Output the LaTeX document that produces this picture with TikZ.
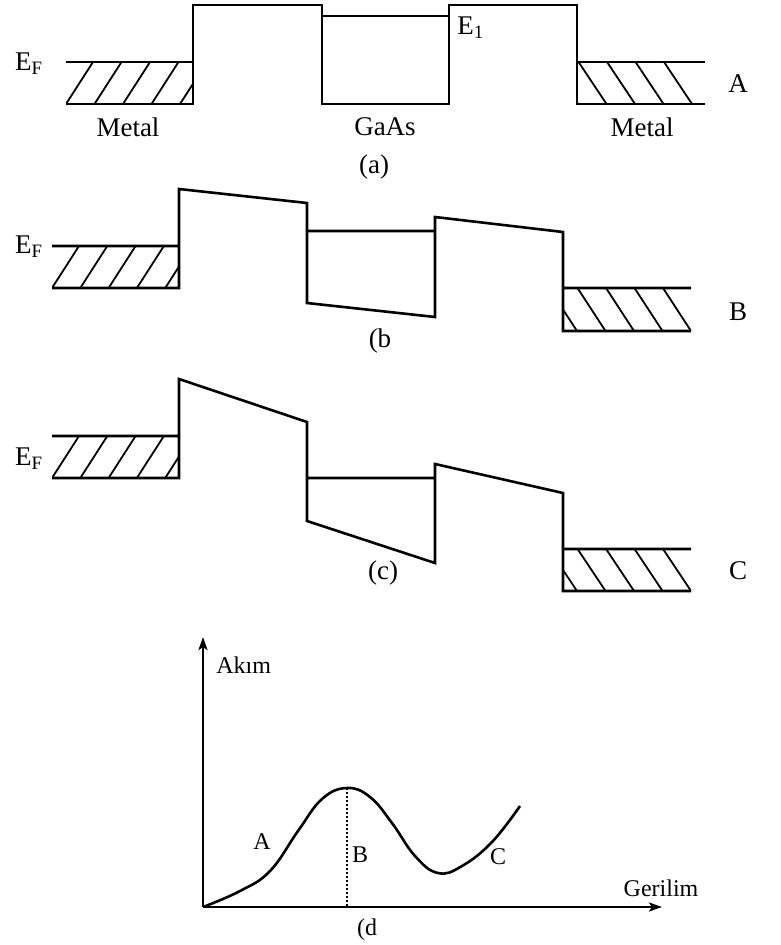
\documentclass[tikz,border=0pt]{standalone}
\usepackage{fontspec}
\setmainfont{Liberation Serif}
\usetikzlibrary{arrows.meta}
\begin{document}
\begin{tikzpicture}[x=1pt,y=-1pt,line width=2.6pt,
  lbl/.style={font=\fontsize{27}{32}\selectfont,inner sep=0pt},
  lbld/.style={font=\fontsize{24}{28}\selectfont,inner sep=0pt},
  hatch/.style={line width=1.8pt}]
\useasboundingbox (0,0) rectangle (781,945);
% (a)
\draw (66,62)--(193,62) (66,104)--(193,104)--(193,5)--(322,5)--(322,104)--(449,104)--(449,5)--(577,5)--(577,104)--(705,104) (577,62)--(705,62) (322,16)--(449,16);
\begin{scope}
\clip (66,62) rectangle (193,104);
\foreach \i in {0,...,4}
\draw[hatch] ({66+28.5*\i},104)--++(27,-42);
\end{scope}
\begin{scope}
\clip (577,62) rectangle (705,104);
\foreach \i in {0,...,4}
\draw[hatch] ({550+28.5*\i},62)--++(28,42);
\end{scope}
\node[lbl] (efa) at (29,64) {E\textsubscript{F}};
\node[lbl,anchor=west] (e1) at (456,28) {E\textsubscript{1}};
\node[lbl] (mleft) at (128,127) {Metal};
\node[lbl] (gaas) at (385,127) {GaAs};
\node[lbl] (mright) at (642,127) {Metal};
\node[lbl] (capa) at (374,167) {(a)};
\node[lbl] (la) at (738,84) {A};
% (b)
\draw (52,246)--(179,246) (52,288)--(179,288)--(179,189)--(307,203)--(307,303)--(435,317)--(435,217)--(563,232)--(563,331)--(691,331) (563,288)--(691,288) (307,231)--(435,231);
\begin{scope}
\clip (52,246) rectangle (179,288);
\foreach \i in {0,...,4}
\draw[hatch] ({52+28.3*\i},288)--++(27,-42);
\end{scope}
\begin{scope}
\clip (563,288) rectangle (691,331);
\foreach \i in {0,...,4}
\draw[hatch] ({549+28.5*\i},288)--++(28,43);
\end{scope}
\node[lbl] (efb) at (29,247) {E\textsubscript{F}};
\node[lbl] (capb) at (380,341) {(b};
\node[lbl] (lb) at (738,312) {B};
% (c)
\draw (52,436)--(179,436) (52,478)--(179,478)--(179,379)--(307,422)--(307,521)--(435,563)--(435,464)--(563,493)--(563,591)--(691,591) (563,549)--(691,549) (307,478)--(435,478);
\begin{scope}
\clip (52,436) rectangle (179,478);
\foreach \i in {0,...,4}
\draw[hatch] ({52+28.3*\i},478)--++(27,-42);
\end{scope}
\begin{scope}
\clip (563,549) rectangle (691,591);
\foreach \i in {0,...,4}
\draw[hatch] ({549+28.5*\i},549)--++(28,42);
\end{scope}
\node[lbl] (efc) at (29,459) {E\textsubscript{F}};
\node[lbl] (capc) at (383,573) {(c)};
\node[lbl] (lc) at (738,571) {C};
% (d)
\coordinate (O) at (203,907);
\coordinate (ytop) at (203,637);
\coordinate (xend) at (662,907);
\coordinate (peak) at (347,788);
\draw[-{Stealth[length=13pt,width=9pt,inset=3pt]}] (O)--(ytop);
\draw[-{Stealth[length=13pt,width=9pt,inset=3pt]}] (O)--(xend);
\draw plot[smooth,tension=0.7] coordinates {(203,907) (240,891) (270,871) (298,831) (322,799) (347,788) (370,797) (392,823) (415,856) (438,873) (462,866) (492,842) (520,806)};
\draw[dash pattern=on 2pt off 2pt,line width=2.2pt] (peak)--(peak|-O);
\node[lbld,anchor=west] (akim) at (215,665) {Akım};
\node[lbld] (ger) at (661,888) {Gerilim};
\node[lbld] (pa) at (262,842) {A};
\node[lbld] (pb) at (360,855) {B};
\node[lbld] (pc) at (498,857) {C};
\node[lbld] (capd) at (367,930) {(d};
\end{tikzpicture}
\end{document}
